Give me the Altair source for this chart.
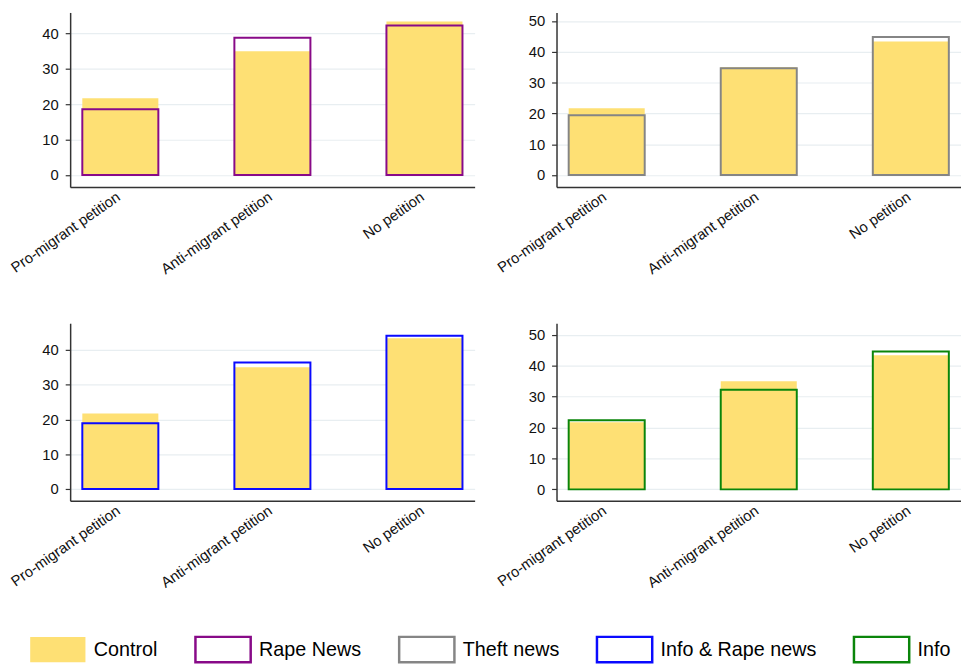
import altair as alt
import pandas as pd

categories = ["Pro-migrant petition", "Anti-migrant petition", "No petition"]
groups = ["Control", "Rape News", "Theft news", "Info & Rape news", "Info"]
control = [21.7, 35.0, 43.4]
rape_news = [18.6, 38.8, 42.3]
theft_news = [19.4, 34.7, 44.8]
info_rape_news = [18.9, 36.4, 44.1]
info = [22.4, 32.2, 44.6]
fill_colors = ["#fee074", "transparent", "transparent", "transparent", "transparent"]
stroke_colors = ["transparent", "#880a88", "#858585", "#0a0aff", "#0a850a"]
y_ticks_40 = [0, 10, 20, 30, 40]
y_ticks_50 = [0, 10, 20, 30, 40, 50]

panels = [
    ("Rape News", rape_news, [-3.4, 45.96], y_ticks_40, 177),
    ("Theft news", theft_news, [-3.9, 52.79], y_ticks_50, 177),
    ("Info & Rape news", info_rape_news, [-3.4, 47.7], y_ticks_40, 180),
    ("Info", info, [-3.7, 53.76], y_ticks_50, 180),
]


def panel(tname, tvals, domain, ticks, h):
    df = pd.DataFrame({
        "category": categories * 2,
        "group": ["Control"] * 3 + [tname] * 3,
        "value": control + tvals,
    })
    return alt.Chart(df).mark_bar(strokeWidth=2).encode(
        x=alt.X("category:N", sort=categories,
                scale=alt.Scale(paddingInner=0.5, paddingOuter=0.08),
                axis=alt.Axis(title=None, labelAngle=-35, labelAlign="right",
                              labelBaseline="top", ticks=False, labelPadding=2,
                              labelOffset=-6, grid=False)),
        y=alt.Y("value:Q", stack=None,
                scale=alt.Scale(domain=domain, nice=False, zero=False),
                axis=alt.Axis(title=None, values=ticks, tickSize=5, labelPadding=7,
                              grid=True)),
        fill=alt.Fill("group:N", scale=alt.Scale(domain=groups, range=fill_colors),
                      legend=alt.Legend(title=None)),
        stroke=alt.Stroke("group:N", scale=alt.Scale(domain=groups, range=stroke_colors),
                          legend=alt.Legend(title=None)),
    ).properties(width=410, height=h)


charts = [panel(*p) for p in panels]
row1 = alt.hconcat(charts[0], charts[1], spacing=20)
row2 = alt.hconcat(charts[2], charts[3], spacing=20)
chart = alt.vconcat(row1, row2, spacing=47).properties(
    padding={"left": 0, "top": 0, "right": 0, "bottom": 0}
).configure_view(stroke=None).configure_axis(
    domainColor="#333333", tickColor="#333333", labelColor="#111111",
    labelFont="Liberation Sans", labelFontSize=15, gridColor="#e8eef1",
    gridWidth=1.2, domainWidth=1.5, tickWidth=1.2,
).configure_legend(
    orient="none", legendX=-42, legendY=616, direction="horizontal",
    symbolType="M-1,-0.46H1V0.46H-1Z", symbolSize=3136, symbolStrokeWidth=2.5,
    labelFontSize=20, labelFont="Liberation Sans", labelColor="#000000",
    columnPadding=32.5, labelOffset=7, labelLimit=0, symbolOpacity=1,
)

chart.save("out.html", embed_options={"renderer": "svg", "actions": False})
